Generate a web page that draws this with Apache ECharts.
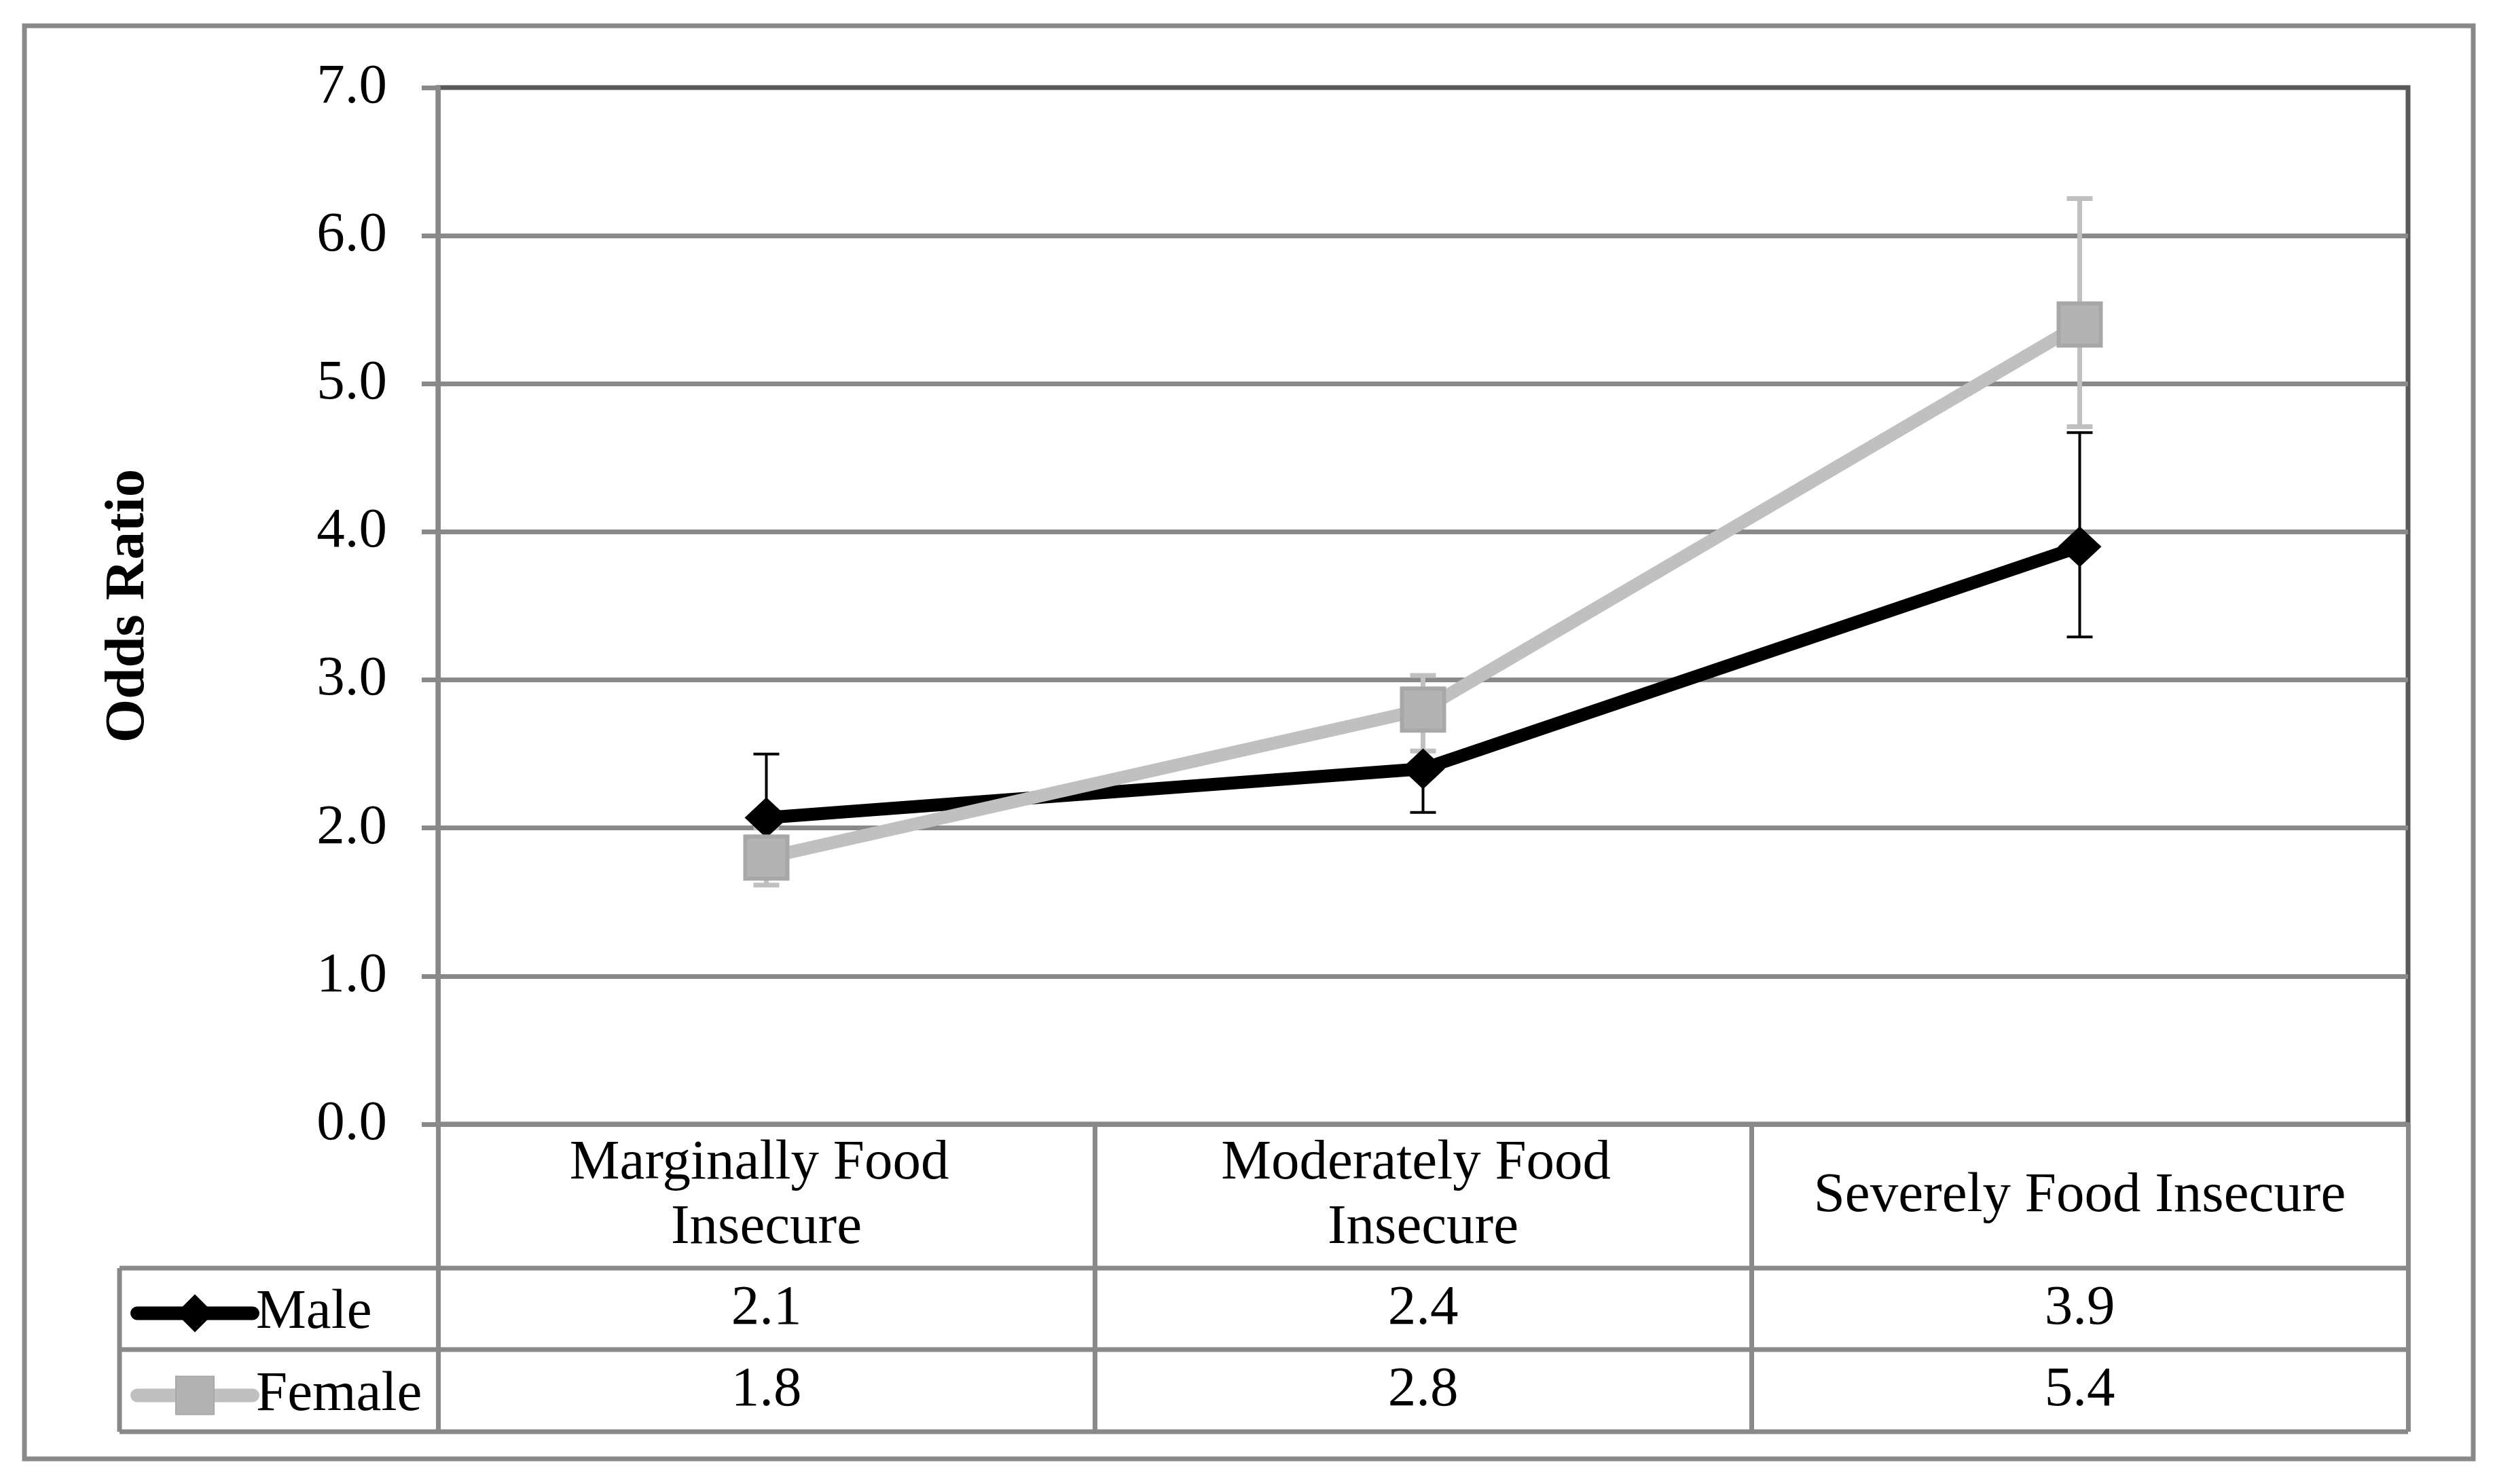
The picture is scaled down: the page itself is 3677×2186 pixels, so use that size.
<!DOCTYPE html>
<html>
<head>
<meta charset="utf-8">
<script src="https://cdn.jsdelivr.net/npm/echarts@6/dist/echarts.min.js"></script>
<style>
  html, body { margin: 0; padding: 0; background: #fff; }
  #chart { width: 3677px; height: 2186px; }
</style>
</head>
<body>
<div id="chart"></div>
<script>
// categories + series values
const categories = ['Marginally Food Insecure', 'Moderately Food Insecure', 'Severely Food Insecure'];
const maleOR = [2.07, 2.4, 3.9];
const femaleOR = [1.8, 2.8, 5.4];
// table row text
const maleLabels = ['2.1', '2.4', '3.9'];
const femaleLabels = ['1.8', '2.8', '5.4'];
// error bars (low / high)
const maleLow = [1.72, 2.105, 3.29];
const maleHigh = [2.5, 2.74, 4.67];
const femaleLow = [1.615, 2.52, 4.71];
const femaleHigh = [2.0, 3.03, 6.25];
const yTicks = [0, 1, 2, 3, 4, 5, 6, 7];

const FONT = 'Liberation Serif';
const GRAY = '#898989';

function errItems(low, high) {
  return low.map((v, i) => [i, v, high[i]]);
}

function errRender(color, width) {
  return function (params, api) {
    const lo = api.coord([api.value(0), api.value(1)]);
    const hi = api.coord([api.value(0), api.value(2)]);
    const half = 19;
    const st = { stroke: color, lineWidth: width };
    return {
      type: 'group',
      children: [
        { type: 'line', shape: { x1: lo[0], y1: lo[1], x2: hi[0], y2: hi[1] }, style: st },
        { type: 'line', shape: { x1: hi[0] - half, y1: hi[1], x2: hi[0] + half, y2: hi[1] }, style: st },
        { type: 'line', shape: { x1: lo[0] - half, y1: lo[1], x2: lo[0] + half, y2: lo[1] }, style: st }
      ]
    };
  };
}

const myChart = echarts.init(document.getElementById('chart'));

const option = {
  animation: false,
  backgroundColor: '#fff',
  textStyle: { fontFamily: FONT },
  grid: {
    left: 645, right: 131, top: 129, bottom: 530,
    show: true, borderColor: '#595959', borderWidth: 7, backgroundColor: 'transparent'
  },
  legend: {
    data: ['Male', 'Female'],
    orient: 'vertical',
    left: 192, top: 1893,
    itemWidth: 170, itemHeight: 70, itemGap: 38,
    padding: 0,
    lineStyle: { width: 20, cap: 'round' },
    textStyle: { fontFamily: FONT, fontSize: 83, lineHeight: 70, color: '#000' }
  },
  xAxis: [{
    type: 'category',
    data: categories,
    boundaryGap: true,
    axisLine: { lineStyle: { color: GRAY, width: 7 } },
    axisTick: { show: true, length: 453, lineStyle: { color: GRAY, width: 7 } },
    axisLabel: {
      interval: 0, margin: 106, verticalAlign: 'middle',
      width: 820, overflow: 'break',
      fontFamily: FONT, fontSize: 83, lineHeight: 95, color: '#000'
    },
    splitLine: { show: false }
  }, {
    type: 'category',
    data: maleLabels,
    position: 'bottom', offset: 212,
    axisLine: { show: false }, axisTick: { show: false }, splitLine: { show: false },
    axisLabel: { interval: 0, margin: 60, verticalAlign: 'middle', fontFamily: FONT, fontSize: 83, color: '#000' }
  }, {
    type: 'category',
    data: femaleLabels,
    position: 'bottom', offset: 332,
    axisLine: { show: false }, axisTick: { show: false }, splitLine: { show: false },
    axisLabel: { interval: 0, margin: 60, verticalAlign: 'middle', fontFamily: FONT, fontSize: 83, color: '#000' }
  }],
  yAxis: {
    type: 'value',
    min: yTicks[0], max: yTicks[yTicks.length - 1], interval: 1,
    name: 'Odds Ratio',
    nameLocation: 'middle', nameGap: 414, nameRotate: 90,
    nameTextStyle: { fontFamily: FONT, fontSize: 83, fontWeight: 'bold', color: '#000' },
    axisLine: { show: true, lineStyle: { color: GRAY, width: 7 } },
    axisTick: { show: true, length: 24, lineStyle: { color: GRAY, width: 7 } },
    axisLabel: {
      margin: 75, fontFamily: FONT, fontSize: 83, color: '#000',
      formatter: v => v.toFixed(1)
    },
    splitLine: { show: true, showMaxLine: false, lineStyle: { color: GRAY, width: 7 } }
  },
  series: [{
    name: 'Male err', type: 'custom', z: 1,
    renderItem: errRender('#000', 4),
    encode: { x: 0, y: [1, 2] },
    data: errItems(maleLow, maleHigh)
  }, {
    name: 'Female err', type: 'custom', z: 1,
    renderItem: errRender('#c0c0c0', 7),
    encode: { x: 0, y: [1, 2] },
    data: errItems(femaleLow, femaleHigh)
  }, {
    name: 'Male', type: 'line', z: 2,
    data: maleOR,
    symbol: 'diamond', symbolSize: [64, 60],
    lineStyle: { color: '#000', width: 19 },
    itemStyle: { color: '#000', borderWidth: 0 }
  }, {
    name: 'Female', type: 'line', z: 3,
    data: femaleOR,
    symbol: 'rect', symbolSize: 62,
    lineStyle: { color: '#c0c0c0', width: 19 },
    itemStyle: { color: '#b3b3b3', borderColor: '#a8a8a8', borderWidth: 6 }
  }],
  graphic: [
    // outer chart frame
    { type: 'rect', shape: { x: 36, y: 38, width: 3606, height: 2111 }, style: { fill: 'none', stroke: GRAY, lineWidth: 7 } },
    // data table rules
    { type: 'line', shape: { x1: 176, y1: 1868, x2: 3546, y2: 1868 }, style: { stroke: GRAY, lineWidth: 7 } },
    { type: 'line', shape: { x1: 176, y1: 1988, x2: 3546, y2: 1988 }, style: { stroke: GRAY, lineWidth: 7 } },
    { type: 'line', shape: { x1: 176, y1: 2109, x2: 3546, y2: 2109 }, style: { stroke: GRAY, lineWidth: 7 } },
    { type: 'line', shape: { x1: 176, y1: 1868, x2: 176, y2: 2109 }, style: { stroke: GRAY, lineWidth: 7 } }
  ]
};

myChart.setOption(option);
</script>
</body>
</html>
